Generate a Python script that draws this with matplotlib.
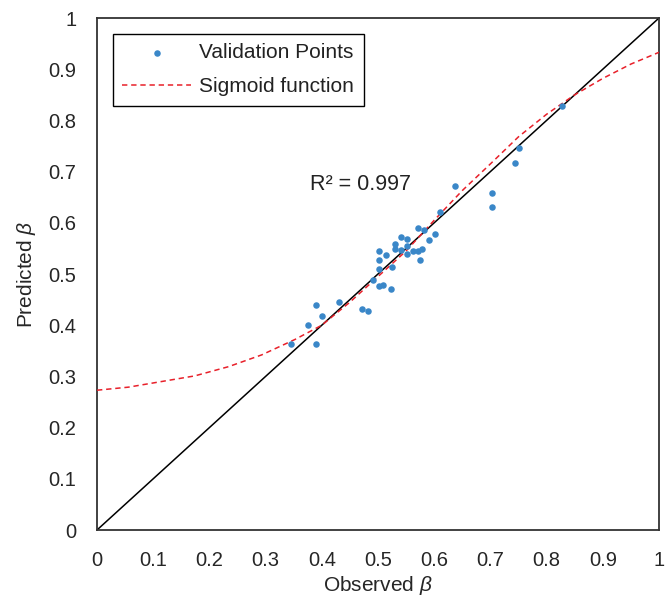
import matplotlib
matplotlib.use("Agg")
import matplotlib.pyplot as plt

plt.rcParams['font.family'] = ['Liberation Sans', 'DejaVu Sans']
plt.rcParams['mathtext.fontset'] = 'custom'
plt.rcParams['mathtext.it'] = 'Liberation Sans:italic'
plt.rcParams['mathtext.rm'] = 'Liberation Sans'

observed = [0.345, 0.376, 0.389, 0.390, 0.401, 0.431, 0.471, 0.482, 0.491, 0.501,
            0.509, 0.524, 0.525, 0.501, 0.501, 0.501, 0.515, 0.530, 0.531, 0.541,
            0.541, 0.551, 0.551, 0.551, 0.562, 0.571, 0.578, 0.575, 0.572, 0.582,
            0.591, 0.601, 0.610, 0.637, 0.702, 0.702, 0.743, 0.751, 0.827]
predicted = [0.364, 0.400, 0.364, 0.439, 0.418, 0.445, 0.432, 0.427, 0.488, 0.476,
             0.478, 0.470, 0.514, 0.510, 0.527, 0.545, 0.538, 0.549, 0.558, 0.572,
             0.546, 0.568, 0.554, 0.540, 0.545, 0.545, 0.549, 0.527, 0.589, 0.585,
             0.566, 0.578, 0.621, 0.672, 0.659, 0.631, 0.716, 0.746, 0.829]

sig_x = [0.0, 0.056, 0.115, 0.174, 0.234, 0.293, 0.352, 0.40, 0.45, 0.50, 0.55,
         0.60, 0.65, 0.70, 0.75, 0.80, 0.85, 0.90, 0.95, 1.0]
sig_y = [0.273, 0.279, 0.290, 0.301, 0.319, 0.342, 0.372, 0.40, 0.445, 0.495, 0.545,
         0.605, 0.663, 0.715, 0.768, 0.812, 0.850, 0.882, 0.910, 0.933]

line_x = [0, 1]
line_y = [0, 1]
ticks = [0, 0.1, 0.2, 0.3, 0.4, 0.5, 0.6, 0.7, 0.8, 0.9, 1]
tick_labels = ['0', '0.1', '0.2', '0.3', '0.4', '0.5', '0.6', '0.7', '0.8', '0.9', '1']
r2_text = 'R² = 0.997'

fig = plt.figure(figsize=(6.66, 6.0), dpi=100)
ax = fig.add_axes([97/666, 1-530/600, 562/666, 512/600])

ax.plot(line_x, line_y, color='black', lw=1.1, zorder=2)
ax.plot(sig_x, sig_y, color='#E8202A', lw=1.1, ls=(0, (3.5, 2.5)), zorder=3,
        label='Sigmoid function')
ax.scatter(observed, predicted, s=22, color='#3A87C8', zorder=4, linewidths=0,
           label='Validation Points')

ax.set_xlim(0, 1)
ax.set_ylim(0, 1)
ax.set_xticks(ticks)
ax.set_xticklabels(tick_labels)
ax.set_yticks(ticks)
ax.set_yticklabels(tick_labels)
ax.tick_params(length=0, labelsize=14.5, colors='#262626', pad=15)
for s in ax.spines.values():
    s.set_color('#333333')
    s.set_linewidth(1.3)

ax.set_xlabel(r'Observed $\beta$', fontsize=15, color='#262626', labelpad=3)
ax.set_ylabel(r'Predicted $\beta$', fontsize=15, color='#262626', labelpad=7)

ax.text(0.468, 0.674, r2_text, fontsize=15.5, color='#222222', ha='center', va='center')

handles, labels = ax.get_legend_handles_labels()
order = [1, 0]
leg = ax.legend([handles[i] for i in order], [labels[i] for i in order],
                loc='upper left', bbox_to_anchor=(0.0285, 0.969), borderaxespad=0,
                fontsize=15, fancybox=False, edgecolor='black', framealpha=1,
                handlelength=3.3, handletextpad=0.4, borderpad=0.45,
                labelspacing=0.72, scatterpoints=1)
leg.get_frame().set_linewidth(1.0)
for t in leg.get_texts():
    t.set_color('#222222')

fig.savefig('out.png', dpi=100)
